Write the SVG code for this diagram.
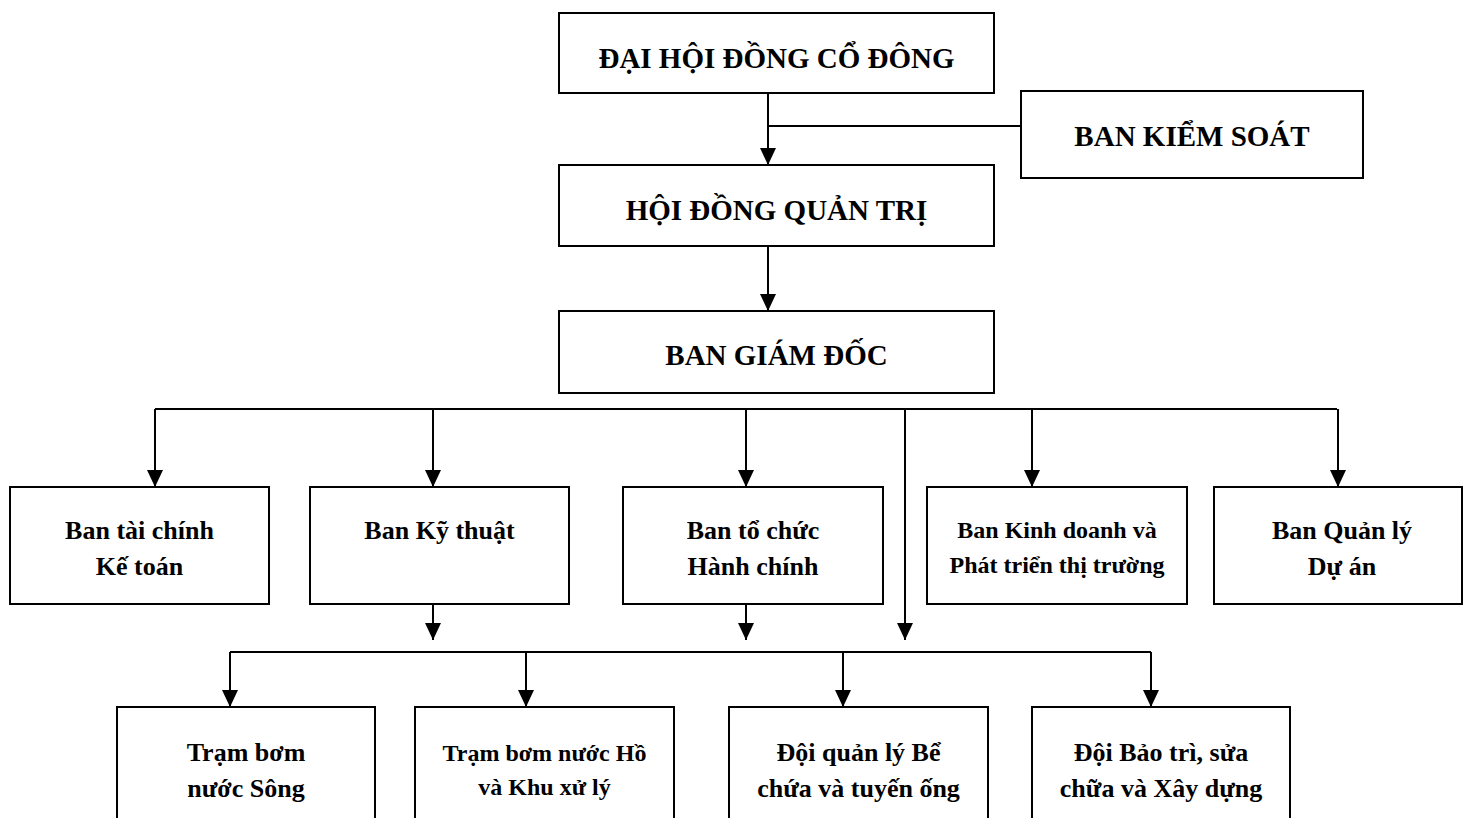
<svg xmlns="http://www.w3.org/2000/svg" width="1464" height="818" viewBox="0 0 1464 818">
<style>
.box{fill:#fff;stroke:#000;stroke-width:2}
.t{font-family:"Liberation Serif","Times New Roman",serif;font-weight:bold;text-anchor:middle;fill:#000}
.big{font-size:29px}
.mid{font-size:26px}
.sm{font-size:24px}
.ln{fill:none;stroke:#000;stroke-width:2}
</style>
<defs>
<marker id="ah" markerUnits="userSpaceOnUse" markerWidth="17" markerHeight="16" viewBox="0 0 17 16" refX="17" refY="8" orient="auto">
<path d="M0,0 L17,8 L0,16 z" fill="#000"/>
</marker>
</defs>
<rect width="1464" height="818" fill="#fff"/>
<g id="connectors">
<path class="ln" d="M768,93 V165" marker-end="url(#ah)"/>
<path class="ln" d="M768,126 H1021"/>
<path class="ln" d="M768,246 V311" marker-end="url(#ah)"/>
<path class="ln" d="M155,409 H1337"/>
<path class="ln" d="M155,409 V487" marker-end="url(#ah)"/>
<path class="ln" d="M433,409 V487" marker-end="url(#ah)"/>
<path class="ln" d="M746,409 V487" marker-end="url(#ah)"/>
<path class="ln" d="M905,409 V640" marker-end="url(#ah)"/>
<path class="ln" d="M1032,409 V487" marker-end="url(#ah)"/>
<path class="ln" d="M1338,409 V487" marker-end="url(#ah)"/>
<path class="ln" d="M433,604 V640" marker-end="url(#ah)"/>
<path class="ln" d="M746,604 V640" marker-end="url(#ah)"/>
<path class="ln" d="M230,652 H1151"/>
<path class="ln" d="M230,652 V707" marker-end="url(#ah)"/>
<path class="ln" d="M526,652 V707" marker-end="url(#ah)"/>
<path class="ln" d="M843,652 V707" marker-end="url(#ah)"/>
<path class="ln" d="M1151,652 V707" marker-end="url(#ah)"/>
</g>
<g id="dhdcd"><rect class="box" x="559" y="13" width="435" height="80"/><text class="t big" x="776.5" y="68">ĐẠI HỘI ĐỒNG CỔ ĐÔNG</text></g>
<g id="bks"><rect class="box" x="1021" y="91" width="342" height="87"/><text class="t big" x="1192" y="146">BAN KIỂM SOÁT</text></g>
<g id="hdqt"><rect class="box" x="559" y="165" width="435" height="81"/><text class="t big" x="776.5" y="220">HỘI ĐỒNG QUẢN TRỊ</text></g>
<g id="bgd"><rect class="box" x="559" y="311" width="435" height="82"/><text class="t big" x="776.5" y="365">BAN GIÁM ĐỐC</text></g>
<g id="taichinh"><rect class="box" x="10" y="487" width="259" height="117"/><text class="t mid" x="139.5" y="539">Ban tài chính</text><text class="t mid" x="139.5" y="575">Kế toán</text></g>
<g id="kythuat"><rect class="box" x="310" y="487" width="259" height="117"/><text class="t mid" x="439.5" y="539">Ban Kỹ thuật</text></g>
<g id="tochuc"><rect class="box" x="623" y="487" width="260" height="117"/><text class="t mid" x="753" y="539">Ban tổ chức</text><text class="t mid" x="753" y="575">Hành chính</text></g>
<g id="kinhdoanh"><rect class="box" x="927" y="487" width="260" height="117"/><text class="t sm" x="1057" y="538">Ban Kinh doanh và</text><text class="t sm" x="1057" y="573">Phát triển thị trường</text></g>
<g id="quanlyduan"><rect class="box" x="1214" y="487" width="248" height="117"/><text class="t mid" x="1342" y="539">Ban Quản lý</text><text class="t mid" x="1342" y="575">Dự án</text></g>
<g id="trambomsong"><rect class="box" x="117" y="707" width="258" height="130"/><text class="t mid" x="246" y="761">Trạm bơm</text><text class="t mid" x="246" y="797">nước Sông</text></g>
<g id="trambomho"><rect class="box" x="415" y="707" width="259" height="130"/><text class="t sm" x="544.5" y="761">Trạm bơm nước Hồ</text><text class="t sm" x="544.5" y="795">và Khu xử lý</text></g>
<g id="doiquanly"><rect class="box" x="729" y="707" width="259" height="130"/><text class="t mid" x="858.5" y="761">Đội quản lý Bể</text><text class="t mid" x="858.5" y="797">chứa và tuyến ống</text></g>
<g id="doibaotri"><rect class="box" x="1032" y="707" width="258" height="130"/><text class="t mid" x="1161" y="761">Đội Bảo trì, sửa</text><text class="t mid" x="1161" y="797">chữa và Xây dựng</text></g>
</svg>
